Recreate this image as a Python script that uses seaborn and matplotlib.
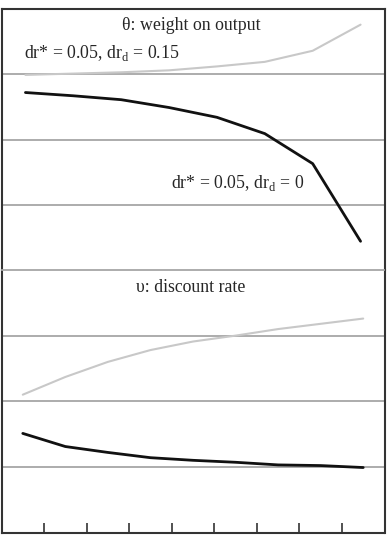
import matplotlib
matplotlib.use("Agg")
import matplotlib.pyplot as plt
import seaborn as sns
import pandas as pd
import numpy as np

# ---- data (arbitrary units: 1 unit = one grid band) ----
theta_x = [0, 1, 2, 3, 4, 5, 6, 7]
theta_high = [2.99, 3.01, 3.03, 3.06, 3.12, 3.19, 3.36, 3.76]   # dr*=0.05, dr_d=0.15
theta_zero = [2.72, 2.67, 2.61, 2.49, 2.34, 2.09, 1.63, 0.44]   # dr*=0.05, dr_d=0

upsilon_x = [0, 1, 2, 3, 4, 5, 6, 7, 8]
upsilon_high = [2.10, 2.37, 2.60, 2.78, 2.91, 3.00, 3.10, 3.18, 3.26]
upsilon_zero = [1.51, 1.31, 1.22, 1.14, 1.10, 1.07, 1.03, 1.02, 0.99]

title_theta = "θ: weight on output"
title_upsilon = "υ: discount rate"
label_high = r"dr* = 0.05, dr$_{\mathrm{d}}$ = 0.15"
label_zero = r"dr* = 0.05, dr$_{\mathrm{d}}$ = 0"

sns.set_style("white")
plt.rcParams["font.family"] = ["Liberation Serif", "DejaVu Serif"]
plt.rcParams["mathtext.fontset"] = "custom"
plt.rcParams["mathtext.rm"] = "Liberation Serif"

LIGHT = "#c8c8c8"
DARK = "#111111"
GRID = "#a6a6a6"
FRAME = "#333333"

fig = plt.figure(figsize=(3.89, 5.42), dpi=100)
W, H = 389, 542
left, right = 1.5 / W, 384.5 / W
y_top, y_mid, y_bot = 9, 270, 532.5
ax1 = fig.add_axes([left, (H - y_mid) / H, right - left, (y_mid - y_top) / H])
ax2 = fig.add_axes([left, (H - y_bot) / H, right - left, (y_bot - y_mid) / H])

df1 = pd.DataFrame({"x": theta_x * 2,
                    "y": theta_high + theta_zero,
                    "s": ["high"] * len(theta_x) + ["zero"] * len(theta_x)})
df2 = pd.DataFrame({"x": upsilon_x * 2,
                    "y": upsilon_high + upsilon_zero,
                    "s": ["high"] * len(upsilon_x) + ["zero"] * len(upsilon_x)})

pal = {"high": LIGHT, "zero": DARK}
sizes = {"high": 1.5, "zero": 2.0}
for ax, df in ((ax1, df1), (ax2, df2)):
    sns.lineplot(data=df, x="x", y="y", hue="s", palette=pal, size="s",
                 sizes=sizes, legend=False, ax=ax, zorder=3)
    ax.set_ylim(0, 4)
    for g in (1, 2, 3):
        ax.axhline(g, color=GRID, lw=1.3, zorder=1)
    ax.set_xlabel("")
    ax.set_ylabel("")
    ax.set_yticks([])
    for sp in ax.spines.values():
        sp.set_color(FRAME)
        sp.set_linewidth(1.5)
        sp.set_visible(True)

ax1.set_xlim(-0.5, len(theta_x) - 0.5)
ax2.set_xlim(-0.5, len(upsilon_x) - 0.5)
ax1.set_xticks([])
ax1.spines["bottom"].set_visible(False)
ax2.spines["top"].set_color(GRID)
ax2.spines["top"].set_linewidth(1.3)

ax2.set_xticks(np.arange(0.5, len(upsilon_x) - 1, 1.0))
ax2.set_xticklabels([])
ax2.tick_params(axis="x", direction="in", length=7, width=1.2, color=FRAME, bottom=True)

fs = 12.8
ax1.text(0.495, 0.935, title_theta, transform=ax1.transAxes, ha="center", va="center", fontsize=fs)
ax1.text(0.06, 0.83, label_high, transform=ax1.transAxes, ha="left", va="center", fontsize=fs)
ax1.text(0.443, 0.335, label_zero, transform=ax1.transAxes, ha="left", va="center", fontsize=fs)
ax2.text(0.495, 0.935, title_upsilon, transform=ax2.transAxes, ha="center", va="center", fontsize=fs)

fig.savefig("out.png", dpi=100)
